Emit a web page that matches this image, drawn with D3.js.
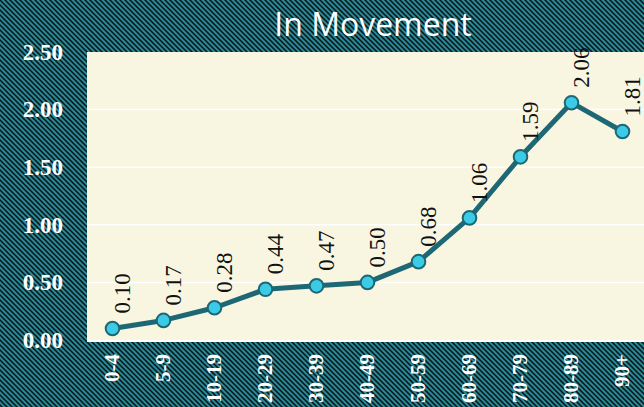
<!DOCTYPE html>
<html>
<head>
<meta charset="utf-8">
<script src="https://cdn.jsdelivr.net/npm/d3@7"></script>
<style>
  html, body { margin: 0; padding: 0; overflow: hidden; }
  svg { display: block; }
</style>
</head>
<body>
<div id="chart"></div>
<script>
const categories = ["0-4", "5-9", "10-19", "20-29", "30-39", "40-49", "50-59", "60-69", "70-79", "80-89", "90+"];
const values = [0.10, 0.17, 0.28, 0.44, 0.47, 0.50, 0.68, 1.06, 1.59, 2.06, 1.81];
const yTicks = [0, 0.5, 1.0, 1.5, 2.0, 2.5];
const title = "In Movement";

const width = 644, height = 407;
const margin = { top: 52, right: -4, bottom: 67, left: 87 };

const svg = d3.select("#chart").append("svg")
  .attr("width", width)
  .attr("height", height);

// striped backdrop, "\" diagonal hatch on a 5px tile
const defs = svg.append("defs");
const pat = defs.append("pattern")
  .attr("id", "stripes")
  .attr("patternUnits", "userSpaceOnUse")
  .attr("width", 5)
  .attr("height", 5);
pat.append("rect").attr("width", 5).attr("height", 5).attr("fill", "#2a8896");
pat.append("path")
  .attr("d", "M-1,-1L6,6M-1,4L1,6M4,-1L6,1")
  .attr("stroke", "#061214")
  .attr("stroke-width", 1.5);

svg.append("rect")
  .attr("width", width)
  .attr("height", height)
  .attr("fill", "url(#stripes)");

const x = d3.scaleBand()
  .domain(categories)
  .range([margin.left, width - margin.right]);

const y = d3.scaleLinear()
  .domain([0, 2.5])
  .range([height - margin.bottom, margin.top]);

svg.append("rect")
  .attr("x", margin.left)
  .attr("y", margin.top)
  .attr("width", width - margin.right - margin.left)
  .attr("height", y(0) - margin.top)
  .attr("fill", "#f8f5e1");

// gridlines
svg.append("g")
  .selectAll("line")
  .data(yTicks.slice(1, -1))
  .join("line")
    .attr("x1", margin.left)
    .attr("x2", width - margin.right)
    .attr("y1", d => y(d))
    .attr("y2", d => y(d))
    .attr("stroke", "#ffffff")
    .attr("stroke-width", 1.5);

svg.append("line")
  .attr("x1", margin.left)
  .attr("x2", width - margin.right)
  .attr("y1", y(0) + 1)
  .attr("y2", y(0) + 1)
  .attr("stroke", "#ffffff")
  .attr("stroke-width", 2);

// y axis
svg.append("g")
  .attr("transform", `translate(${margin.left}, 0)`)
  .call(d3.axisLeft(y).tickValues(yTicks).tickFormat(d3.format(".2f")).tickSize(0).tickPadding(24))
  .call(g => g.select(".domain").remove())
  .call(g => g.selectAll("text")
    .attr("fill", "#ffffff")
    .style("font-family", "'Liberation Serif', serif")
    .style("font-weight", "bold")
    .style("font-size", "23px"));

// x axis labels
svg.append("g")
  .selectAll("text")
  .data(categories)
  .join("text")
    .attr("transform", d => `translate(${x(d) + x.bandwidth() / 2 - 1}, ${y(0) + 14}) rotate(-90)`)
    .attr("text-anchor", "end")
    .attr("dy", "0.35em")
    .attr("fill", "#ffffff")
    .style("font-family", "'Liberation Serif', serif")
    .style("font-weight", "bold")
    .style("font-size", "21px")
    .text(d => d);

const cx = (d, i) => x(categories[i]) + x.bandwidth() / 2;

const line = d3.line()
  .x((d, i) => cx(d, i))
  .y(d => y(d));

svg.append("path")
  .datum(values)
  .attr("fill", "none")
  .attr("stroke", "#1d6874")
  .attr("stroke-width", 5)
  .attr("stroke-linejoin", "round")
  .attr("d", line);

svg.append("g")
  .selectAll("circle")
  .data(values)
  .join("circle")
    .attr("cx", cx)
    .attr("cy", d => y(d))
    .attr("r", 6.8)
    .attr("fill", "#3ccbe6")
    .attr("stroke", "#1d6874")
    .attr("stroke-width", 2);

// value labels
svg.append("g")
  .selectAll("text")
  .data(values)
  .join("text")
    .attr("transform", (d, i) => `translate(${cx(d, i) + 9}, ${y(d) - 15}) rotate(-90)`)
    .attr("dy", "0.35em")
    .attr("fill", "#111111")
    .style("font-family", "'Liberation Serif', serif")
    .style("font-size", "23px")
    .text(d => d3.format(".2f")(d));

svg.append("text")
  .attr("x", 373)
  .attr("y", 36)
  .attr("text-anchor", "middle")
  .attr("fill", "#ffffff")
  .style("font-family", "'Open Sans', sans-serif")
  .style("font-size", "32px")
  .text(title);
</script>
</body>
</html>
